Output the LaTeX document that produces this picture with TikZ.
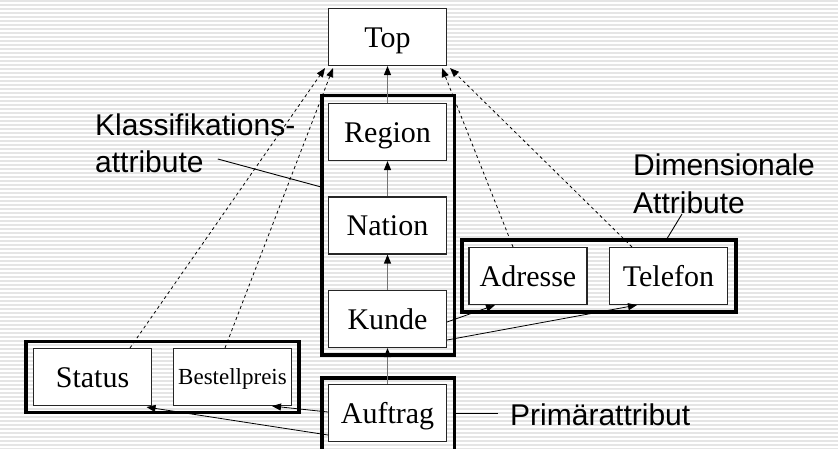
\documentclass[tikz,border=0pt]{standalone}
\usepackage{fontspec}
\setmainfont{Liberation Serif}
\newfontfamily\arialfont{Liberation Sans}
\usetikzlibrary{arrows.meta}
\begin{document}
\begin{tikzpicture}[x=1pt,y=-1pt,
  attrbox/.style={draw=black!85, line width=1.1pt, fill=white, minimum width=118pt, minimum height=57pt, inner sep=0pt, text height=20pt, text depth=0pt, font=\fontsize{30}{36}\selectfont},
  groupbox/.style={draw=black, line width=3.5pt, inner sep=0pt},
  label/.style={font=\arialfont\fontsize{30}{36}\selectfont, inner sep=0pt, anchor=base west},
  tip/.style={-{Triangle[length=9pt,width=7pt,color=black]}},
  hier/.style={tip, draw=black!55, line width=1.2pt},
  dep/.style={tip, draw=black, line width=0.8pt},
  dim/.style={tip, draw=black, line width=0.8pt, dash pattern=on 3pt off 3pt},
  note/.style={draw=black, line width=0.9pt}]
\useasboundingbox (0,0) rectangle (838,448);
\clip (0,0) rectangle (838,448);
\fill[white] (0,0) rectangle (838,448);
\foreach \yy in {1,5,...,449} {\draw[black!10, line width=1.5pt] (0,\yy) -- (838,\yy);}
% group frames
\node[groupbox, minimum width=132.5pt, minimum height=259.5pt] (Kgroup) at (388.25,225.25) {};
\node[groupbox, minimum width=132.5pt, minimum height=74pt] (Agroup) at (388.25,415) {};
\node[groupbox, minimum width=273pt, minimum height=71pt] (Sgroup) at (162.5,377) {};
\node[groupbox, minimum width=274pt, minimum height=72pt] (Dgroup) at (599,276) {};
% boxes
\node[attrbox] (Top) at (387.5,37) {Top};
\node[attrbox] (Region) at (387.5,132) {Region};
\node[attrbox] (Nation) at (387.5,225.5) {Nation};
\node[attrbox] (Kunde) at (387.5,319) {Kunde};
\node[attrbox] (Auftrag) at (387.5,413) {Auftrag};
\node[attrbox] (Status) at (92.5,377) {Status};
\node[attrbox, font=\fontsize{23}{28}\selectfont, text height=15pt] (Bestell) at (232.5,377) {Bestellpreis};
\node[attrbox] (Adresse) at (528,276) {Adresse};
\node[attrbox] (Telefon) at (668.5,276) {Telefon};
% labels
\node[label] (Klass) at (95,135) {Klassifikations-};
\node[label] (Kattr) at (95,172) {attribute};
\node[label] (Dimen) at (633,175) {Dimensionale};
\node[label] (Dattr) at (633,213) {Attribute};
\node[label] (Prim) at (510,425) {Primärattribut};
% hierarchy arrows
\draw[hier] (Region) -- (Top);
\draw[hier] (Nation) -- (Region);
\draw[hier] (Kunde) -- (Nation);
\draw[hier] (Auftrag) -- (Kunde);
% dependent arrows
\draw[dep] ([yshift=-3pt]Kunde.east) -- ([xshift=-33pt]Adresse.south);
\draw[dep] ([yshift=-21pt]Kunde.east) -- ([xshift=-31.5pt]Telefon.south);
\draw[dep] ([yshift=1pt]Auftrag.west) -- ([xshift=39.5pt]Bestell.south);
\draw[dep] ([yshift=-22pt]Auftrag.west) -- ([xshift=54pt,yshift=-1pt]Status.south);
% dashed arrows to Top
\draw[dim] ([xshift=37.5pt]Status.north) -- ([xshift=-62.5pt,yshift=-2pt]Top.south);
\draw[dim] ([xshift=-7.5pt]Bestell.north) -- ([xshift=-54.5pt,yshift=-2pt]Top.south);
\draw[dim] ([xshift=-15pt]Adresse.north) -- ([xshift=54.5pt,yshift=-2pt]Top.south);
\draw[dim] ([xshift=-36.5pt]Telefon.north) -- ([xshift=62.5pt,yshift=-2pt]Top.south);
% annotation lines
\draw[note] ([xshift=14pt,yshift=13pt]Kattr.base east) -- ([yshift=-93pt]Kgroup.north west);
\draw[note] ([xshift=49pt,yshift=-1pt]Dattr.base west) -- ([xshift=207pt]Dgroup.north west);
\draw[note] (Agroup.east |- Auftrag.center) -- ([xshift=-12pt]Prim.west |- Auftrag.center);
\end{tikzpicture}
\end{document}
